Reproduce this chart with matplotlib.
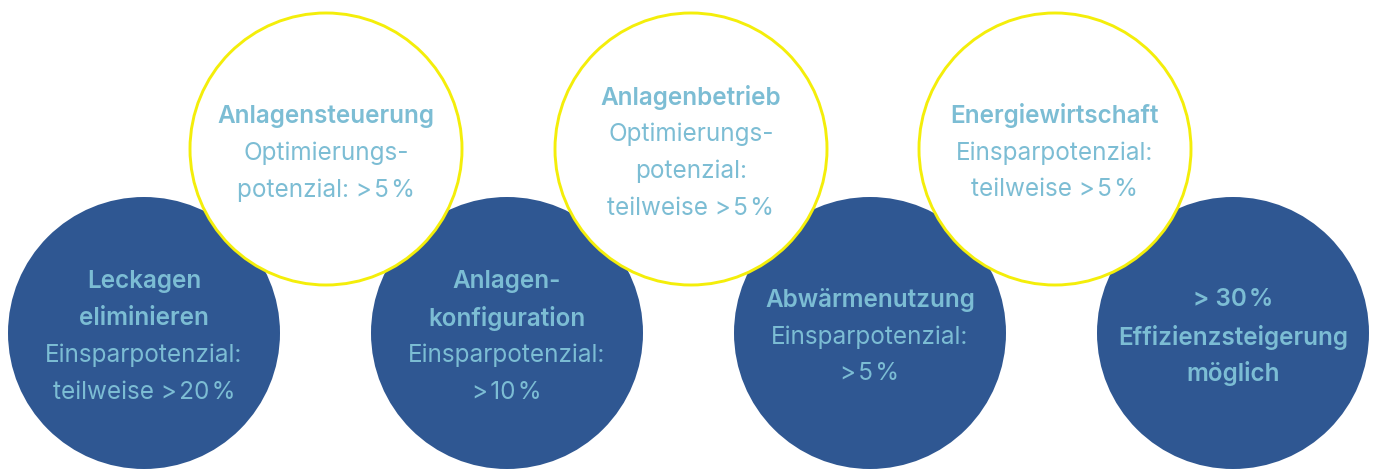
import matplotlib.pyplot as plt
from matplotlib.patches import Circle

plt.rcParams['font.family'] = ['Inter', 'DejaVu Sans']

DARK = '#2f5792'
YELLOW = '#f4ee0a'
TEXT = '#7cbdd4'

# circle centres (pixel coords) and kind
cx = [144, 326, 507, 691, 870, 1055, 1233]
cy = [333, 149, 333, 149, 333, 149, 333]
kind = ['dark', 'ring', 'dark', 'ring', 'dark', 'ring', 'dark']
R = 136

# text lines per circle, with bold flags
lines = [
    ['Leckagen', 'eliminieren', 'Einsparpotenzial:', 'teilweise >\u200a20\u200a%'],
    ['Anlagensteuerung', 'Optimierungs-', 'potenzial: >\u200a5\u200a%'],
    ['Anlagen-', 'konfiguration', 'Einsparpotenzial:', '>\u200a10\u200a%'],
    ['Anlagenbetrieb', 'Optimierungs-', 'potenzial:', 'teilweise >\u200a5\u200a%'],
    ['Abwärmenutzung', 'Einsparpotenzial:', '>\u200a5\u200a%'],
    ['Energiewirtschaft', 'Einsparpotenzial:', 'teilweise >\u200a5\u200a%'],
    ['> 30\u200a%', 'Effizienzsteigerung', 'möglich'],
]
bold = [
    [1, 1, 0, 0],
    [1, 0, 0],
    [1, 1, 0, 0],
    [1, 0, 0, 0],
    [1, 0, 0],
    [1, 0, 0],
    [1, 1, 1],
]

fig = plt.figure(figsize=(13.75, 4.72), dpi=100)
ax = fig.add_axes([0, 0, 1, 1])
ax.set_xlim(0, 1375)
ax.set_ylim(472, 0)
ax.set_aspect('equal')
ax.axis('off')

for i in range(len(cx)):
    if kind[i] == 'dark':
        ax.add_patch(Circle((cx[i], cy[i]), R, facecolor=DARK, edgecolor='none', zorder=1))
    else:
        ax.add_patch(Circle((cx[i], cy[i]), R, facecolor='white', edgecolor=YELLOW, lw=2.1, zorder=2))
    n = len(lines[i])
    for j, txt in enumerate(lines[i]):
        y = cy[i] + 4 + (j - (n - 1) / 2) * 37
        ax.text(cx[i], y, txt, ha='center', va='center', color=TEXT, fontsize=17.5,
                fontweight='semibold' if bold[i][j] else 'normal', zorder=3)

fig.savefig('out.png', dpi=100)
